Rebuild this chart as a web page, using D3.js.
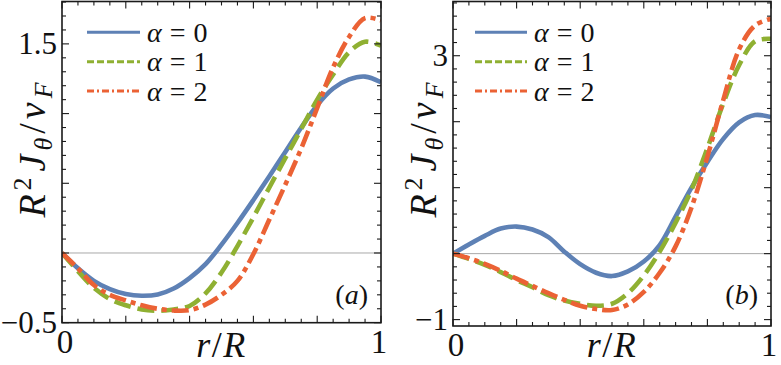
<!DOCTYPE html>
<html><head><meta charset="utf-8">
<script src="https://cdn.jsdelivr.net/npm/d3@7"></script>
<style>body{margin:0;background:#fff}svg{display:block}</style>
</head><body>
<svg id="c" width="781" height="365"></svg>
<script>
// ---------- data ----------
const xs = [0,0.05,0.1,0.15,0.2,0.25,0.3,0.35,0.4,0.45,0.5,0.55,0.6,0.65,0.7,0.75,0.8,0.85,0.9,0.95,1];
// panel (a)
const yA0 = [0,-0.11,-0.2,-0.26,-0.295,-0.307,-0.298,-0.255,-0.18,-0.08,0.06,0.215,0.38,0.55,0.725,0.9,1.06,1.18,1.245,1.265,1.225];
const yA1 = [0,-0.13,-0.25,-0.33,-0.375,-0.405,-0.414,-0.405,-0.38,-0.29,-0.14,0.05,0.256,0.47,0.68,0.89,1.1,1.28,1.44,1.515,1.488];
const yA2 = [0,-0.11,-0.23,-0.3,-0.34,-0.375,-0.4,-0.413,-0.41,-0.37,-0.3,-0.2,-0.007,0.24,0.49,0.75,1.04,1.332,1.55,1.685,1.668];
// panel (b)
const yB0 = [0,0.14,0.27,0.38,0.41,0.365,0.25,0.03,-0.16,-0.29,-0.34,-0.27,-0.12,0.13,0.56,1.0,1.39,1.74,1.99,2.1,2.07];
const yB1 = [0,-0.08,-0.17,-0.28,-0.4,-0.51,-0.63,-0.71,-0.76,-0.79,-0.76,-0.6,-0.33,0.03,0.47,0.97,1.6,2.28,2.86,3.22,3.256];
const yB2 = [0,-0.07,-0.155,-0.26,-0.38,-0.49,-0.6,-0.7,-0.79,-0.84,-0.855,-0.77,-0.58,-0.29,0.11,0.7,1.47,2.33,3.1,3.46,3.56];

const legendLabels = ["0","1","2"];
const panelLabels = ["a","b"];
const yTickLabelsA = [-0.5, 1.5];
const yTickLabelsB = [-1, 3];
const xTickLabels = [0, 1];

// ---------- styles ----------
const colors = ["#5E81B5","#8FB032","#EB6235"];
const dashMain = [null,"17,7","17,5,5,5"];
const dashLeg = [null,"7,3","7,3,2,3"];
const FONT = '"Liberation Serif"';

const svg = d3.select("#c").style("font-family", FONT, "important");

const panels = [
  {left:62, right:381, top:1.5, bottom:322.7, ydom:[-0.5,1.804], yMajor:0.5, yMinor:0.1,
   series:[yA0,yA1,yA2], yLabels:yTickLabelsA, legX:87, legW:53, label:panelLabels[0]},
  {left:453, right:771, top:1.5, bottom:326, ydom:[-1.097,3.822], yMajor:1, yMinor:0.2,
   series:[yB0,yB1,yB2], yLabels:yTickLabelsB, legX:475, legW:52, label:panelLabels[1]}
];

function fmt(v){ return (v<0?"\u2212":"") + Math.abs(v); }
function txt(g){ return g.append("text").style("font-family",FONT,"important").attr("fill","#111"); }

panels.forEach(p=>{
  const x = d3.scaleLinear().domain([0,1]).range([p.left,p.right]);
  const y = d3.scaleLinear().domain(p.ydom).range([p.bottom,p.top]);
  const g = svg.append("g");
  const clipId = "clip"+p.label;
  svg.append("clipPath").attr("id",clipId).append("rect")
    .attr("x",p.left).attr("y",p.top).attr("width",p.right-p.left).attr("height",p.bottom-p.top);

  g.append("line").attr("x1",p.left).attr("x2",p.right).attr("y1",y(0)).attr("y2",y(0))
    .attr("stroke","#a8a8a8").attr("stroke-width",1);

  const line = d3.line().x(d=>x(d[0])).y(d=>y(d[1])).curve(d3.curveCatmullRom.alpha(0.5));
  const cg = g.append("g").attr("clip-path","url(#"+clipId+")");
  p.series.forEach((s,i)=>{
    const pts = xs.map((xv,k)=>[xv,s[k]]);
    cg.append("path").attr("d",line(pts)).attr("fill","none")
      .attr("stroke",colors[i]).attr("stroke-width",4.6)
      .attr("stroke-dasharray",dashMain[i]).attr("stroke-linecap","butt");
  });

  g.append("rect").attr("x",p.left).attr("y",p.top).attr("width",p.right-p.left).attr("height",p.bottom-p.top)
    .attr("fill","none").attr("stroke","#1a1a1a").attr("stroke-width",1.6);

  d3.range(0,1.0001,0.05).forEach(v=>{
    const major = Math.abs(v/0.2-Math.round(v/0.2))<1e-6;
    const L = major?7:4;
    g.append("line").attr("x1",x(v)).attr("x2",x(v)).attr("y1",p.bottom).attr("y2",p.bottom-L)
      .attr("stroke","#1a1a1a").attr("stroke-width",1.1);
    g.append("line").attr("x1",x(v)).attr("x2",x(v)).attr("y1",p.top).attr("y2",p.top+L)
      .attr("stroke","#1a1a1a").attr("stroke-width",1.1);
  });
  const y0 = Math.ceil(p.ydom[0]/p.yMinor-1e-6)*p.yMinor;
  d3.range(y0,p.ydom[1]+1e-6,p.yMinor).forEach(v=>{
    const r = v/p.yMajor;
    const major = Math.abs(r-Math.round(r))<1e-6;
    const L = major?7:4;
    g.append("line").attr("x1",p.left).attr("x2",p.left+L).attr("y1",y(v)).attr("y2",y(v))
      .attr("stroke","#1a1a1a").attr("stroke-width",1.1);
    g.append("line").attr("x1",p.right).attr("x2",p.right-L).attr("y1",y(v)).attr("y2",y(v))
      .attr("stroke","#1a1a1a").attr("stroke-width",1.1);
  });

  p.yLabels.forEach(v=>{
    txt(g).attr("x",p.left-5).attr("y",y(v)).attr("dy","0.33em")
      .attr("text-anchor","end").attr("font-size",31).text(fmt(v));
  });
  xTickLabels.forEach(v=>{
    txt(g).attr("x",x(v)+(v===0?3:-2)).attr("y",p.bottom+30)
      .attr("text-anchor","middle").attr("font-size",33).text(v);
  });

  const xtit = txt(g).attr("x",(p.left+p.right)/2).attr("y",357)
    .attr("text-anchor","middle").attr("font-size",36).attr("letter-spacing",1.5);
  xtit.append("tspan").attr("font-style","italic").text("r");
  xtit.append("tspan").text("/");
  xtit.append("tspan").attr("font-style","italic").text("R");

  const cy = 148, cx = p.left-17;
  const yt = txt(g).attr("transform",`translate(${cx},${cy}) rotate(-90)`)
    .attr("text-anchor","middle").attr("font-size",38).attr("letter-spacing",4);
  yt.append("tspan").attr("font-style","italic").text("R");
  yt.append("tspan").attr("font-size",26).attr("dy",-14).text("2");
  yt.append("tspan").attr("font-style","italic").attr("dy",14).attr("dx",2).text("J");
  yt.append("tspan").attr("font-style","italic").attr("font-size",26).attr("dy",7).text("θ");
  yt.append("tspan").attr("dy",-7).text("/");
  yt.append("tspan").attr("font-style","italic").text("v");
  yt.append("tspan").attr("font-style","italic").attr("font-size",26).attr("dy",7).text("F");

  const legY = [32.3,61.7,91];
  legendLabels.forEach((lab,i)=>{
    g.append("line").attr("x1",p.legX).attr("x2",p.legX+p.legW).attr("y1",legY[i]).attr("y2",legY[i])
      .attr("stroke",colors[i]).attr("stroke-width",3).attr("stroke-dasharray",dashLeg[i]);
    const t = txt(g).attr("x",p.legX+p.legW+7).attr("y",legY[i]).attr("dy","0.34em")
      .attr("font-size",28);
    t.append("tspan").attr("font-style","italic").text("α");
    t.append("tspan").attr("dx",8).text("=");
    t.append("tspan").attr("dx",8).text(lab);
  });

  const pl = txt(g).attr("x",p.right-13).attr("y",304).attr("text-anchor","end")
    .attr("font-size",28);
  pl.append("tspan").text("(");
  pl.append("tspan").attr("font-style","italic").text(p.label);
  pl.append("tspan").text(")");
});
</script>
</body></html>
